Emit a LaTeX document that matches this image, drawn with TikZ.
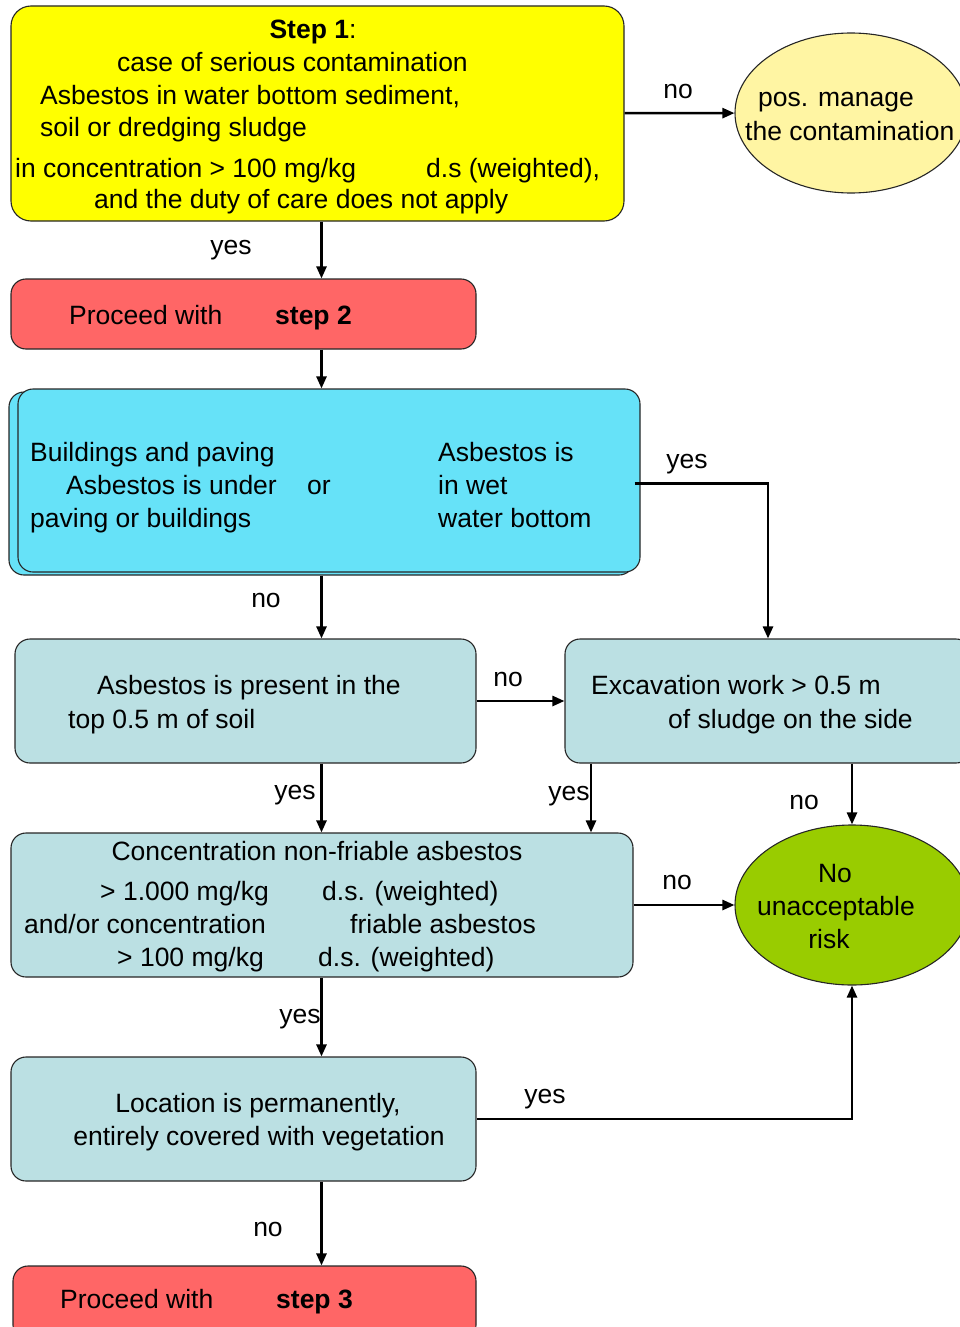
\documentclass[tikz,border=0pt]{standalone}
\usepackage{fontspec}
\setmainfont{Liberation Sans}
\usetikzlibrary{arrows.meta}
\usetikzlibrary{shapes.geometric}
\definecolor{stepyellow}{HTML}{FFFF00}
\definecolor{manageyellow}{HTML}{FFF5A3}
\definecolor{proceedred}{HTML}{FF6666}
\definecolor{choicecyan}{HTML}{66E2F8}
\definecolor{checkblue}{HTML}{BBE0E3}
\definecolor{riskgreen}{HTML}{99CC00}
\tikzstyle{box}=[draw=black!85,line width=1.1pt,rounded corners=15pt,inner sep=0pt]
\tikzstyle{oval}=[draw=black!85,line width=1.1pt,ellipse,inner sep=0pt]
\tikzstyle{txt}=[anchor=base west,inner sep=0pt]
\tikzstyle{ctxt}=[anchor=base,inner sep=0pt]
\tikzstyle{arrow}=[line width=2.5pt,-{Triangle[length=12pt,width=10pt]}]

\begin{document}
\begin{tikzpicture}[x=1pt,y=-1pt,font=\fontsize{26.5}{33}\selectfont]  % pixel grid, y down
\useasboundingbox (0,0) rectangle (960,1327);

\coordinate (mainline) at (321.5,0);
\coordinate (sideline) at (591,0);

% boxes
\node[box,fill=stepyellow,rounded corners=20pt,minimum width=613pt,minimum height=215pt] (step1) at (317.5,113.5) {};
\node[oval,fill=manageyellow,minimum width=232pt,minimum height=160pt] (manage) at (851,113) {};
\node[box,fill=proceedred,minimum width=465pt,minimum height=70pt] (step2) at (243.5,314) {};
\node[box,fill=choicecyan,minimum width=625pt,minimum height=183pt] (choiceback) at (321.5,483.5) {};
\node[box,fill=choicecyan,minimum width=622pt,minimum height=183pt] (choice) at (329,480.5) {};
\node[box,fill=checkblue,minimum width=461pt,minimum height=124pt] (present) at (245.5,701) {};
\node[box,fill=checkblue,minimum width=406pt,minimum height=124pt] (excav) at (768,701) {};
\node[box,fill=checkblue,minimum width=622pt,minimum height=144pt] (conc) at (322,905) {};
\node[oval,fill=riskgreen,minimum width=234pt,minimum height=160pt] (norisk) at (852,905) {};
\node[box,fill=checkblue,minimum width=465pt,minimum height=124pt] (location) at (243.5,1119) {};
\node[box,fill=proceedred,minimum width=463pt,minimum height=74pt] (step3) at (244.5,1303) {};

% texts
\node[ctxt] (s1title) at (313,39) {\textbf{Step 1}:};
\node[txt] (s1case) at (117,72) {case of serious contamination};
\node[txt] (s1what) at (40,105) {Asbestos in water bottom sediment,};
\node[txt] (s1soil) at (40,136) {soil or dredging sludge};
\node[txt] (s1conc) at (15,177) {in concentration > 100 mg/kg};
\node[txt] (s1ds) at (426,177) {d.s (weighted),};
\node[txt] (s1duty) at (94,208) {and the duty of care does not apply};

\node[txt] (manage1) at (758,107) {pos. manage};
\node[txt] (manage2) at (745,140) {the contamination};

\node[txt] (step2a) at (69,324) {Proceed with};
\node[txt] (step2b) at (275,324) {\textbf{step 2}};

\node[txt] (build1) at (30,461) {Buildings and paving};
\node[txt] (build2) at (66,494) {Asbestos is under};
\node[txt] (build3) at (30,527) {paving or buildings};
\node[txt] (choiceor) at (307,494) {or};
\node[txt] (wet1) at (438,461) {Asbestos is};
\node[txt] (wet2) at (438,494) {in wet};
\node[txt] (wet3) at (438,527) {water bottom};

\node[txt] (present1) at (97,694) {Asbestos is present in the};
\node[txt] (present2) at (68,728) {top 0.5 m of soil};
\node[txt] (excav1) at (591,694) {Excavation work > 0.5 m};
\node[txt] (excav2) at (668,728) {of sludge on the side};

\node[ctxt] (conc1) at (317,860) {Concentration non-friable asbestos};
\node[txt] (conc2) at (100,900) {> 1.000 mg/kg};
\node[txt] (conc3) at (322,900) {d.s. (weighted)};
\node[txt] (conc4) at (24,933) {and/or concentration};
\node[txt] (conc5) at (350,933) {friable asbestos};
\node[txt] (conc6) at (117,966) {> 100 mg/kg};
\node[txt] (conc7) at (318,966) {d.s. (weighted)};

\node[ctxt] (risk1) at (835,882) {No};
\node[ctxt] (risk2) at (836,915) {unacceptable};
\node[ctxt] (risk3) at (829,948) {risk};

\node[ctxt] (location1) at (258,1112) {Location is permanently,};
\node[ctxt] (location2) at (259,1145) {entirely covered with vegetation};

\node[txt] (step3a) at (60,1308) {Proceed with};
\node[txt] (step3b) at (276,1308) {\textbf{step 3}};

% connectors
\draw[arrow] (step1) -- (manage);
\draw[arrow] (step1.south -| mainline) -- (step2.north -| mainline);
\draw[arrow] (step2.south -| mainline) -- (choice.north -| mainline);
\draw[arrow] (choiceback.east) -| (excav.north);
\draw[arrow] (choiceback.south -| mainline) -- (present.north -| mainline);
\draw[arrow] (present) -- (excav);
\draw[arrow] (present.south -| mainline) -- (conc.north -| mainline);
\draw[arrow] (excav.south -| sideline) -- (conc.north -| sideline);
\draw[arrow] (excav.south -| norisk.north) -- (norisk.north);
\draw[arrow] (conc) -- (norisk);
\draw[arrow] (conc.south -| mainline) -- (location.north -| mainline);
\draw[arrow] (location) -| (norisk.south);
\draw[arrow] (location.south -| mainline) -- (step3.north -| mainline);

% answers
\node[ctxt] (ans1) at (678,99) {no};
\node[ctxt] (ans2) at (231,254) {yes};
\node[ctxt] (ans3) at (687,468) {yes};
\node[ctxt] (ans4) at (266,607) {no};
\node[ctxt] (ans5) at (508,686) {no};
\node[ctxt] (ans6) at (295,799) {yes};
\node[ctxt] (ans7) at (569,800) {yes};
\node[ctxt] (ans8) at (804,809) {no};
\node[ctxt] (ans9) at (677,889) {no};
\node[ctxt] (ans10) at (300,1023) {yes};
\node[ctxt] (ans11) at (545,1103) {yes};
\node[ctxt] (ans12) at (268,1236) {no};
\end{tikzpicture}
\end{document}
